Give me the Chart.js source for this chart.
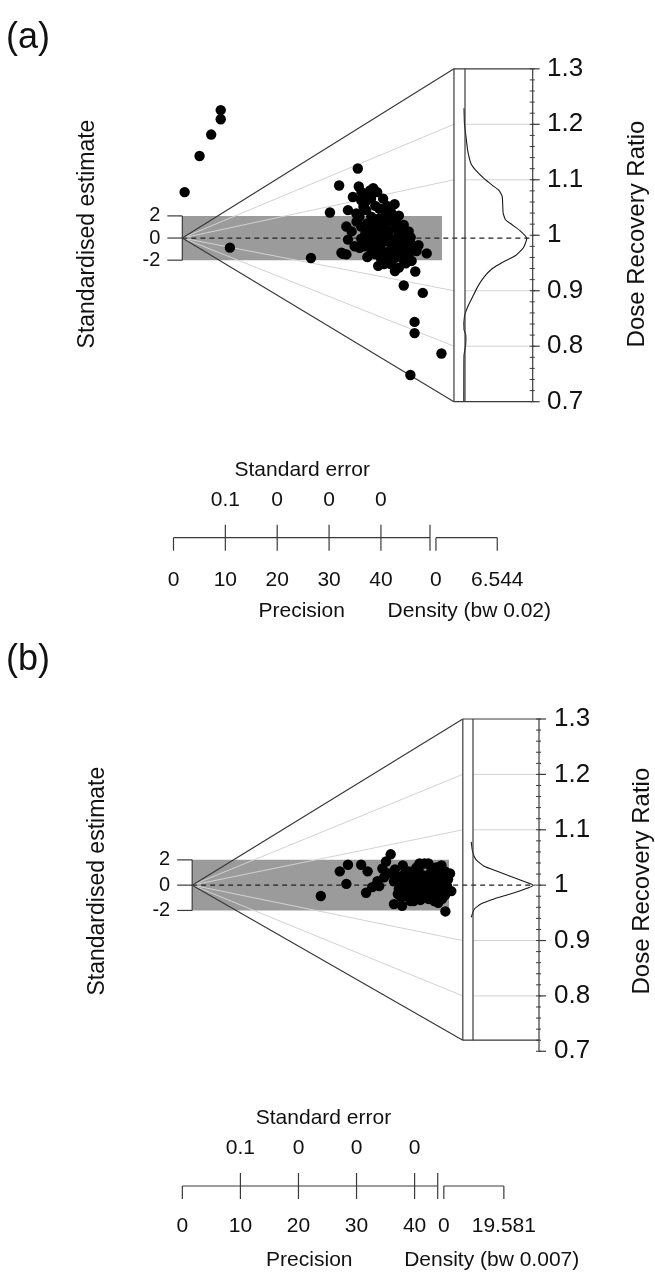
<!DOCTYPE html>
<html>
<head>
<meta charset="utf-8">
<script src="https://cdn.jsdelivr.net/npm/chart.js@4.4.1/dist/chart.umd.min.js"></script>
<style>
  body { margin: 0; background: #fff; width: 655px; height: 1273px; overflow: hidden; }
  canvas { display: block; }
</style>
</head>
<body>
<canvas id="panel-a" width="655" height="636"></canvas>
<canvas id="panel-b" width="655" height="637"></canvas>
<script>
// shared axis values
const zTicks = [1.3, 1.2, 1.1, 1, 0.9, 0.8, 0.7];
const zTickLabels = ['1.3', '1.2', '1.1', '1', '0.9', '0.8', '0.7'];
const stdTicks = [2, 0, -2];
const stdTickLabels = ['2', '0', '-2'];
const precisionTicks = [0, 10, 20, 30, 40];
const seTickLabels = ['0.1', '0', '0', '0'];

// panel (a): precision / standardised estimate of each aliquot
const precisionA = [
  7.40, 7.40, 5.56, 3.32, 0.44, 9.17, 24.80, 28.46, 30.23, 33.83,
  34.02, 36.19, 32.88, 34.48, 36.38, 38.71, 40.93, 31.94, 33.53, 35.43,
  37.95, 39.22, 37.95, 38.90, 31.63, 34.48, 36.05, 37.32, 39.22, 41.12,
  42.69, 31.94, 34.48, 37.63, 39.53, 41.75, 43.32, 34.16, 36.38, 38.27,
  40.17, 41.75, 43.97, 44.59, 30.68, 31.63, 39.53, 41.12, 43.64, 47.12,
  37.76, 40.17, 41.75, 44.91, 42.69, 46.36, 44.78, 44.78, 49.96, 43.97,
  43.02, 30.99,
  37.00, 37.95, 38.90, 39.85, 40.80, 40.23, 41.37, 42.13, 38.52, 37.38,
  36.05, 35.29, 36.43, 35.67, 39.85, 40.80, 42.31, 42.88, 43.45, 39.28,
  40.80, 38.33, 42.50, 37.19, 36.43, 35.10, 33.21, 32.64, 33.59, 34.91,
  37.19, 35.86, 39.47, 37.57, 41.75, 44.02, 45.16, 45.54, 44.21, 38.71,
  34.54, 36.81, 35.29, 40.23, 41.37, 43.64, 42.13, 40.42, 38.71, 36.81,
  35.67, 38.90, 40.99, 43.08, 34.16
];
const estimateA = [
  11.56, 10.73, 9.35, 7.41, 4.15, -0.87, -1.80, 2.31, 4.75, 6.28,
  4.66, 4.30, 3.71, 3.41, 3.56, 3.56, 3.06, 2.52, 2.22, 2.52,
  2.67, 2.22, 1.78, 1.33, 1.04, 1.04, 0.60, 0.89, 0.75, 0.89,
  1.19, -0.14, -0.05, 0.15, 0.15, 0.30, 0.44, -0.89, -0.89, -0.59,
  -0.44, -0.74, -0.44, -1.03, -1.33, -1.48, -1.33, -1.48, -1.63, -1.39,
  -2.52, -2.36, -2.67, -3.02, -4.29, -4.96, -7.58, -8.59, -10.43, -12.38,
  -1.48, -1.42,
  1.48, 0.60, -0.29, 0.60, -0.12, -1.00, -0.29, -1.18, -1.18, -0.74,
  -0.12, 0.42, 1.93, 1.31, 1.48, 1.93, 0.77, -0.12, -0.83, -1.89,
  -1.89, -1.89, -1.89, -1.45, -1.36, -0.74, -0.74, 0.60, 1.48, 2.82,
  2.91, 3.88, 2.91, 4.15, 2.02, 0.06, -1.18, -0.65, -2.07, 1.04,
  4.15, 4.51, 3.26, 2.37, 1.31, 0.60, -0.29, -0.83, 0.33, -0.12,
  -1.72, -2.36, -2.99, -2.28, 1.93
];
// KDE of the ratios (a)
const kdeRatioA = [0.70, 0.783, 0.803, 0.821, 0.830, 0.854, 0.871, 0.889, 0.907, 0.925,
  0.940, 0.951, 0.963, 0.978, 0.995, 1.008, 1.019, 1.028, 1.040, 1.070,
  1.081, 1.090, 1.102, 1.117, 1.129, 1.152, 1.176, 1.200, 1.229];
const kdeDensityA = [0.0, 0.02, 0.2, 0.2, 0.02, 0.07, 0.41, 0.92, 1.43, 2.12,
  2.97, 3.99, 5.35, 6.21, 6.544, 5.86, 5.01, 4.33, 4.09, 3.99,
  3.65, 2.97, 2.12, 1.26, 0.75, 0.41, 0.24, 0.07, 0.02];
const densityMaxA = 6.544;
const bandwidthA = '0.02';
const centralA = 0.995;
const zRangeA = [0.7, 1.3];

// panel (b)
const precisionB = [
  22.15, 25.42, 26.83, 26.56, 29.10, 30.22, 29.95, 31.92, 32.76, 34.19,
  33.39, 34.75, 36.15, 43.61, 40.68, 42.93, 44.63, 31.02, 33.05, 32.20, 33.73,
  35.25, 35.59, 36.44, 36.95, 37.29, 37.63, 38.14, 38.64, 38.98, 39.32,
  39.83, 40.34, 40.68, 41.02, 41.53, 41.69, 42.03, 42.37, 42.71, 43.05,
  43.39, 43.73, 44.07, 38.14, 39.32, 35.93, 41.19, 40.00, 38.64, 37.63,
  42.37, 43.56, 36.61, 34.75, 35.42, 41.86, 42.88, 40.51, 38.31, 39.66,
  34.92, 36.27, 37.12, 37.97, 38.81, 39.49, 40.17, 40.85, 41.36, 42.03,
  42.54, 43.22, 43.90, 44.41, 36.10, 37.46, 40.00, 41.69, 43.05, 38.47,
  40.68, 43.56, 35.59, 37.80, 39.15
];
const estimateB = [
  -0.86, 1.09, 1.61, 0.10, 1.61, 1.09, -0.60, 0.31, 1.32, 2.44,
  1.87, -1.50, -1.63, -2.08, 1.71, 1.56, -0.47, -0.16, 0.62, -0.08, 0.93,
  0.70, -0.31, 0.31, -0.86, 1.09, -0.08, 0.47, -0.62, 1.25, 0.31,
  -0.31, 0.70, -1.09, 0.16, 1.09, -0.47, 0.47, -0.08, -0.86, 0.93,
  0.16, -0.47, 0.47, -1.25, -1.17, -0.93, 1.40, 1.71, 1.40, -1.25,
  -1.40, 1.09, 0.93, 0.31, -0.70, -0.86, 0.31, -0.54, -0.31, 0.78,
  1.25, 1.56, -0.39, 1.09, 0.00, -0.70, 0.31, 0.86, -0.16, 1.40,
  -0.47, 0.62, -0.08, 0.93, 0.00, 0.47, -0.93, -1.25, -1.09, 0.62,
  -0.16, -0.78, 0.47, -0.70, 1.71
];
const kdeRatioB = [0.942, 0.957, 0.966, 0.975, 0.984, 0.992, 1.0, 1.007, 1.016, 1.025, 1.034, 1.046, 1.060, 1.078];
const kdeDensityB = [0, 1.0, 3.04, 7.17, 12.3, 16.5, 19.581, 16.5, 12.3, 8.2, 4.09, 1.49, 0.46, 0];
const densityMaxB = 19.581;
const bandwidthB = '0.007';
const centralB = 1.0;
const zRangeB = [0.72, 1.3];

// page layout of each panel (canvas pixels)
const layoutA = {
  label: '(a)', labelY: 38, height: 636,
  originX: 180, originY: 236.7, pxPerPrecision: 5.27, pxPerStd: 11.25, pxPerRatio: 564,
  edgeX: 456, rectEndX: 444, densLeftX: 465, densZeroX: 466, densPeakX: 530, axisX: 532.7,
  leftTitleX: 88, rightTitleX: 637, rightLabelX: 547,
  bottomAxisY: 537.7, bottomZeroX: 171, bottomPxPerPrecision: 5.27, bottomEndX: 430,
  bottomDensZeroX: 437.7, bottomDensMaxX: 500,
  seTitleY: 470, seLabelY: 500, tickLabelY: 580, titleY: 611.7, precTitleX: 301.7, densTitleX: 469.3
};
const layoutB = {
  label: '(b)', labelY: 24, height: 637,
  originX: 190, originY: 248, pxPerPrecision: 5.9, pxPerStd: 12.85, pxPerRatio: 563,
  edgeX: 465, rectEndX: 451, densLeftX: 473, densZeroX: 473.5, densPeakX: 536.7, axisX: 539,
  leftTitleX: 98, rightTitleX: 642, rightLabelX: 554,
  bottomAxisY: 550, bottomZeroX: 180, bottomPxPerPrecision: 5.9, bottomEndX: 437.7,
  bottomDensZeroX: 445.7, bottomDensMaxX: 506.7,
  seTitleY: 482, seLabelY: 512, tickLabelY: 590.7, titleY: 624, precTitleX: 309.3, densTitleX: 491.7
};

const FONT = '"Liberation Sans", Arial, sans-serif';

function buildPanel(canvasId, d, g) {
  const W = 655, H = g.height;
  const toStd = z => (z - d.central) * g.pxPerRatio / g.pxPerStd;
  const toPrec = px => (px - g.originX) / g.pxPerPrecision;
  const edge = toPrec(g.edgeX);
  const densPx = (g.densPeakX - g.densZeroX) / d.densityMax;
  const botDensPx = (g.bottomDensMaxX - g.bottomDensZeroX) / d.densityMax;

  const spanX = (zeroPx, ppu) => ({ min: -zeroPx / ppu, max: (W - zeroPx) / ppu });
  const spanY = (zeroPx, ppu, off) => ({ min: (zeroPx - H) / ppu + off, max: zeroPx / ppu + off });
  const lin = (axis, r) => ({
    type: 'linear', axis: axis, position: axis === 'x' ? 'bottom' : 'left',
    display: false, bounds: 'data', min: r.min, max: r.max
  });

  const lineDs = (data, extra) => Object.assign({
    type: 'line', data: data, pointRadius: 0, pointHoverRadius: 0, fill: false,
    xAxisID: 'x', yAxisID: 'y', tension: 0
  }, extra);

  // first dataset is drawn on top
  const datasets = [];
  datasets.push({
    type: 'scatter',
    data: d.precision.map((p, i) => ({ x: p, y: d.estimate[i] })),
    backgroundColor: '#000', borderWidth: 0, pointRadius: 5.2, pointHoverRadius: 5.2,
    xAxisID: 'x', yAxisID: 'y'
  });
  datasets.push(lineDs(d.kdeDensity.map((v, i) => ({ x: v, y: d.kdeRatio[i] })), {
    xAxisID: 'xd', yAxisID: 'yz', borderColor: '#1a1a1a', borderWidth: 1.1, tension: 0.15
  }));
  datasets.push(lineDs([
    { x: edge, y: toStd(d.zRange[1]) }, { x: 0, y: 0 }, { x: edge, y: toStd(d.zRange[0]) }
  ], { borderColor: '#3a3a3a', borderWidth: 1.2 }));
  datasets.push(lineDs([{ x: 0, y: 0 }, { x: toPrec(g.axisX), y: 0 }], {
    borderColor: '#222', borderWidth: 1.2, borderDash: [5, 4]
  }));
  zTicks.filter(z => z !== 1 && z < d.zRange[1] && z > d.zRange[0]).forEach(z => {
    datasets.push(lineDs([{ x: 0, y: 0 }, { x: edge, y: toStd(z) }], {
      borderColor: '#d2d2d2', borderWidth: 1
    }));
  });
  datasets.push(lineDs([{ x: 0, y: stdTicks[0] }, { x: toPrec(g.rectEndX), y: stdTicks[0] }], {
    borderColor: 'rgba(0,0,0,0)', borderWidth: 0, backgroundColor: '#9b9b9b',
    fill: { value: stdTicks[2] }
  }));

  const seg = (ctx, x1, y1, x2, y2) => {
    ctx.beginPath(); ctx.moveTo(x1, y1); ctx.lineTo(x2, y2); ctx.stroke();
  };
  const text = (ctx, s, x, y, size, align, rot) => {
    ctx.save();
    ctx.font = size + 'px ' + FONT;
    ctx.fillStyle = '#111';
    ctx.textAlign = align || 'center';
    ctx.textBaseline = 'middle';
    ctx.translate(x, y);
    if (rot) ctx.rotate(-Math.PI / 2);
    ctx.fillText(s, 0, 0);
    ctx.restore();
  };

  const decor = {
    id: 'abanicoDecor',
    beforeDatasetsDraw(chart) {
      const ctx = chart.ctx, yz = chart.scales.yz;
      ctx.save();
      ctx.strokeStyle = '#d2d2d2';
      ctx.lineWidth = 1;
      zTicks.filter(z => z !== 1 && z < d.zRange[1] && z > d.zRange[0]).forEach(z => {
        const py = yz.getPixelForValue(z);
        seg(ctx, g.densLeftX, py, g.axisX, py);
      });
      ctx.restore();
    },
    afterDatasetsDraw(chart) {
      const ctx = chart.ctx;
      const xs = chart.scales.x, ys = chart.scales.y, yz = chart.scales.yz;
      const xb = chart.scales.xb, xbd = chart.scales.xbd;
      const topY = yz.getPixelForValue(d.zRange[1]);
      const botY = yz.getPixelForValue(d.zRange[0]);
      const edgePx = xs.getPixelForValue(edge);
      ctx.save();
      ctx.strokeStyle = '#3a3a3a';
      ctx.lineWidth = 1.2;
      // right frame
      seg(ctx, edgePx, topY, edgePx, botY);
      seg(ctx, g.densLeftX, topY, g.densLeftX, botY);
      seg(ctx, edgePx, topY, g.axisX, topY);
      seg(ctx, edgePx, botY, g.axisX, botY);
      // ratio axis
      const zHi = Math.max(...zTicks), zLo = Math.min(...zTicks);
      seg(ctx, g.axisX, yz.getPixelForValue(zHi), g.axisX, Math.max(botY, yz.getPixelForValue(zLo)));
      ctx.lineWidth = 1;
      for (let i = Math.round(zLo * 50); i <= Math.round(zHi * 50); i++) {
        const py = yz.getPixelForValue(i / 50);
        seg(ctx, g.axisX - 3, py, g.axisX + 2, py);
      }
      ctx.lineWidth = 1.2;
      zTicks.forEach(z => {
        const py = yz.getPixelForValue(z);
        seg(ctx, g.axisX, py, g.axisX + 7, py);
      });
      // standardised estimate bracket
      const ox = xs.getPixelForValue(0);
      seg(ctx, ox, ys.getPixelForValue(stdTicks[0]), ox, ys.getPixelForValue(stdTicks[2]));
      stdTicks.forEach(v => {
        const py = ys.getPixelForValue(v);
        seg(ctx, ox - 15, py, ox, py);
      });
      // precision / standard error axis
      const ay = g.bottomAxisY;
      seg(ctx, xb.getPixelForValue(0), ay, g.bottomEndX, ay);
      precisionTicks.forEach(p => {
        const px = xb.getPixelForValue(p);
        seg(ctx, px, p === 0 ? ay : ay - 13, px, ay + 13);
      });
      seg(ctx, g.bottomEndX, ay - 13, g.bottomEndX, ay + 13);
      // density axis
      const d0 = xbd.getPixelForValue(0), d1 = xbd.getPixelForValue(d.densityMax);
      seg(ctx, d0, ay, d1, ay);
      seg(ctx, d0, ay, d0, ay + 13);
      seg(ctx, d1, ay, d1, ay + 13);
      ctx.restore();
    },
    afterDraw(chart) {
      const ys = chart.scales.y, yz = chart.scales.yz, xs = chart.scales.x;
      const xb = chart.scales.xb, xbd = chart.scales.xbd;
      const ctx = chart.ctx;
      text(ctx, g.label, 6, g.labelY, 36, 'left');
      // left
      const ox = xs.getPixelForValue(0);
      stdTicks.forEach((v, i) => text(ctx, stdTickLabels[i], ox - 22, ys.getPixelForValue(v), 20, 'right'));
      text(ctx, 'Standardised estimate', g.leftTitleX, ys.getPixelForValue(0) - 4, 23, 'center', true);
      // right
      zTicks.forEach((z, i) => text(ctx, zTickLabels[i], g.rightLabelX, yz.getPixelForValue(z), 26, 'left'));
      text(ctx, 'Dose Recovery Ratio', g.rightTitleX, ys.getPixelForValue(0) - 4, 24, 'center', true);
      // bottom
      text(ctx, 'Standard error', xb.getPixelForValue(precisionTicks[2]) + 25, g.seTitleY, 21);
      precisionTicks.slice(1).forEach((p, i) => text(ctx, seTickLabels[i], xb.getPixelForValue(p), g.seLabelY, 21));
      precisionTicks.forEach(p => text(ctx, String(p), xb.getPixelForValue(p), g.tickLabelY, 21));
      text(ctx, '0', xbd.getPixelForValue(0), g.tickLabelY, 21);
      text(ctx, String(d.densityMax), xbd.getPixelForValue(d.densityMax), g.tickLabelY, 21);
      text(ctx, 'Precision', g.precTitleX, g.titleY, 21);
      text(ctx, 'Density (bw ' + d.bandwidth + ')', g.densTitleX, g.titleY, 21);
    }
  };

  new Chart(document.getElementById(canvasId).getContext('2d'), {
    type: 'scatter',
    data: { datasets: datasets },
    options: {
      responsive: false,
      animation: false,
      devicePixelRatio: 1,
      events: [],
      layout: { padding: 0 },
      plugins: { legend: { display: false }, tooltip: { enabled: false }, title: { display: false } },
      scales: {
        x: lin('x', spanX(g.originX, g.pxPerPrecision)),
        xd: lin('x', spanX(g.densZeroX, densPx)),
        xb: lin('x', spanX(g.bottomZeroX, g.bottomPxPerPrecision)),
        xbd: lin('x', spanX(g.bottomDensZeroX, botDensPx)),
        y: lin('y', spanY(g.originY, g.pxPerStd, 0)),
        yz: lin('y', spanY(g.originY, g.pxPerRatio, d.central))
      }
    },
    plugins: [decor]
  });
}

buildPanel('panel-a', {
  precision: precisionA, estimate: estimateA, kdeRatio: kdeRatioA, kdeDensity: kdeDensityA,
  densityMax: densityMaxA, bandwidth: bandwidthA, central: centralA, zRange: zRangeA
}, layoutA);

buildPanel('panel-b', {
  precision: precisionB, estimate: estimateB, kdeRatio: kdeRatioB, kdeDensity: kdeDensityB,
  densityMax: densityMaxB, bandwidth: bandwidthB, central: centralB, zRange: zRangeB
}, layoutB);
</script>
</body>
</html>
